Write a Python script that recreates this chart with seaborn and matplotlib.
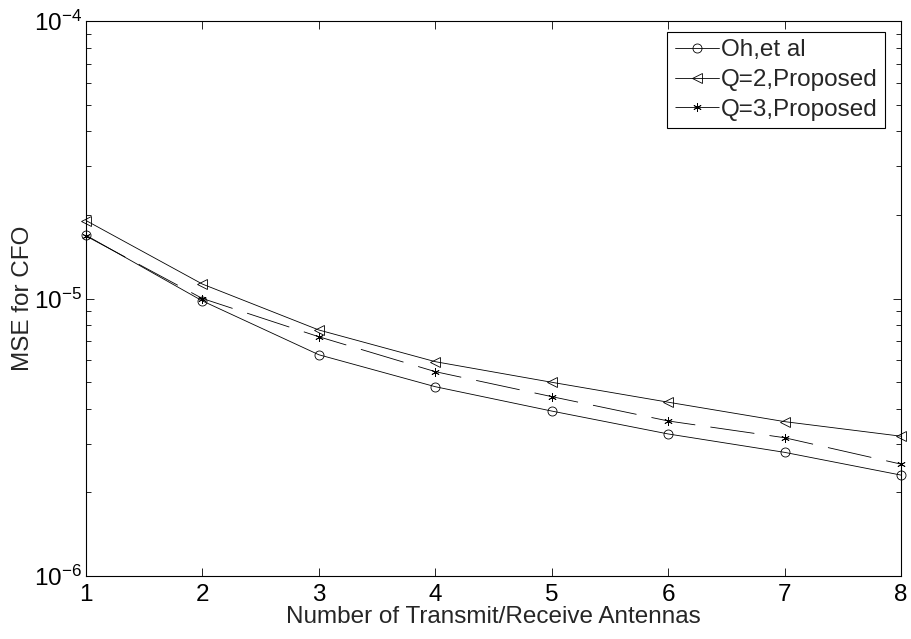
import numpy as np
import pandas as pd
import matplotlib
matplotlib.use("Agg")
import matplotlib.pyplot as plt
import seaborn as sns
from matplotlib.ticker import LogLocator, LogFormatterMathtext, NullFormatter

antennas = [1, 2, 3, 4, 5, 6, 7, 8]
oh_et_al = [1.69e-5, 9.8e-6, 6.27e-6, 4.81e-6, 3.93e-6, 3.25e-6, 2.79e-6, 2.31e-6]
q2_proposed = [1.91e-5, 1.127e-5, 7.70e-6, 5.92e-6, 4.99e-6, 4.23e-6, 3.60e-6, 3.19e-6]
q3_proposed = [1.68e-5, 1.0e-5, 7.28e-6, 5.45e-6, 4.43e-6, 3.62e-6, 3.15e-6, 2.53e-6]
series_labels = ["Oh,et al", "Q=2,Proposed", "Q=3,Proposed"]

sns.set_style("ticks", {"xtick.direction": "in", "ytick.direction": "in"})
plt.rcParams["font.family"] = ["Liberation Sans", "DejaVu Sans"]
plt.rcParams["mathtext.fontset"] = "custom"
plt.rcParams["mathtext.rm"] = "Liberation Sans"
plt.rcParams["mathtext.it"] = "Liberation Sans"
plt.rcParams["mathtext.default"] = "regular"
plt.rcParams["lines.scale_dashes"] = False

fs = 17.5
fig = plt.figure(figsize=(9.11, 6.39), dpi=100)
ax = fig.add_axes([86/911, 1 - 576/639, (901 - 86)/911, (576 - 21)/639])

lw = 0.6
sns.lineplot(x=antennas, y=oh_et_al, ax=ax, color="black", linewidth=lw,
             marker="o", markersize=6.5, markerfacecolor="none",
             markeredgecolor="black", markeredgewidth=0.6, label=series_labels[0],
             clip_on=False)
sns.lineplot(x=antennas, y=q2_proposed, ax=ax, color="black", linewidth=lw,
             marker="<", markersize=7.5, markerfacecolor="none",
             markeredgecolor="black", markeredgewidth=0.6, label=series_labels[1],
             clip_on=False)
sns.lineplot(x=antennas, y=q3_proposed, ax=ax, color="black", linewidth=lw,
             marker=(6, 2, 0), markersize=6, markerfacecolor="none",
             markeredgecolor="black", markeredgewidth=0.6, linestyle="--",
             label=series_labels[2], clip_on=False)
ax.lines[2].set_dashes([32, 11])

ax.set_yscale("log")
ax.set_xlim(1, 8)
ax.set_ylim(1e-6, 1e-4)
ax.set_xticks(antennas)
ax.set_xticklabels([str(a) for a in antennas])
ax.yaxis.set_major_locator(LogLocator(base=10, numticks=10))
ax.yaxis.set_major_formatter(LogFormatterMathtext())
ax.yaxis.set_minor_locator(LogLocator(base=10, subs=np.arange(2, 10), numticks=20))
ax.yaxis.set_minor_formatter(NullFormatter())

ax.tick_params(which="both", direction="in", top=True, right=True,
               labelsize=fs, colors="black", width=0.6)
ax.tick_params(which="major", length=6, pad=3)
ax.tick_params(axis="x", which="major", pad=6)
ax.tick_params(which="minor", length=3.5)
for s in ax.spines.values():
    s.set_linewidth(0.8)
    s.set_color("black")

ax.set_xlabel("Number of Transmit/Receive Antennas", fontsize=fs, labelpad=0)
ax.set_ylabel("MSE for CFO", fontsize=fs, labelpad=0)

leg = ax.legend(loc="upper right", bbox_to_anchor=(1 - 16/815, 1 - 11/555),
                fontsize=fs, frameon=True, fancybox=False, framealpha=1,
                edgecolor="black", handlelength=1.8, handletextpad=0.1,
                labelspacing=0.32, borderpad=0.3, borderaxespad=0)
leg.get_frame().set_linewidth(0.8)

fig.savefig("out.png", dpi=100, facecolor="white")
